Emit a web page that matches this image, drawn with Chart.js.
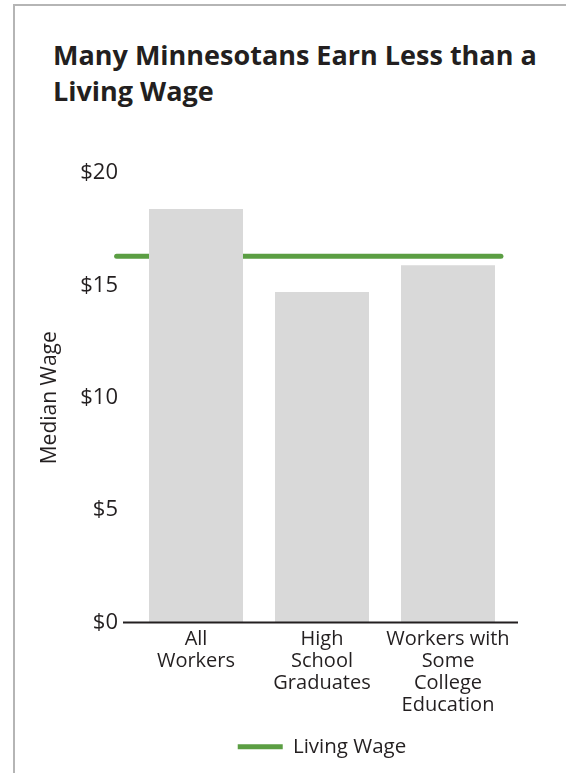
<!DOCTYPE html>
<html>
<head>
<meta charset="utf-8">
<script src="https://cdn.jsdelivr.net/npm/chart.js@4/dist/chart.umd.min.js"></script>
<style>
  body { margin: 0; width: 566px; height: 773px; overflow: hidden; background: #fff; }
  .frame { position: absolute; left: 13px; top: 4px; right: -2px; bottom: -2px;
           border-top: 2px solid #b5b5b5; border-left: 2px solid #b5b5b5; }
  h1 { position: absolute; left: 53px; top: 37px; margin: 0; font: bold 27px "Open Sans", sans-serif;
       line-height: 36px; color: #231f20; }
  .wrap { position: absolute; left: 15px; top: 130px; width: 551px; height: 643px; }
</style>
</head>
<body>
<div class="frame"></div>
<h1>Many Minnesotans Earn Less than a<br>Living Wage</h1>
<div class="wrap"><canvas id="chart"></canvas></div>
<script>
const categories = [["All", "Workers"], ["High", "School", "Graduates"], ["Workers with", "Some", "College", "Education"]];
const medianWage = [18.4, 14.7, 15.9];
const livingWage = 16.3;
const yTicks = [0, 5, 10, 15, 20];

// where the living wage line starts/ends, in category units
const lineSpan = [-0.63, 2.42];

const ink = "#231f20";
const font = "'Open Sans', sans-serif";

// baseline drawn a little wider than the plot area, like the original
const axisLine = {
  id: "axisLine",
  afterDatasetsDraw(chart) {
    const { ctx, chartArea, scales } = chart;
    const y = scales.y.getPixelForValue(0);
    ctx.save();
    ctx.strokeStyle = ink;
    ctx.lineWidth = 2;
    ctx.beginPath();
    ctx.moveTo(chartArea.left - 10, y);
    ctx.lineTo(chartArea.right + 7, y);
    ctx.stroke();
    ctx.restore();
  },
};

new Chart(document.getElementById("chart"), {
  data: {
    labels: categories,
    datasets: [
      {
        type: "bar",
        label: "Median Wage",
        data: medianWage,
        backgroundColor: "#d9d9d9",
        barPercentage: 0.746,
        categoryPercentage: 1,
        grouped: false,
      },
      {
        type: "line",
        label: "Living Wage",
        xAxisID: "xl",
        data: lineSpan.map(x => ({ x, y: livingWage })),
        borderColor: "#5b9e43",
        backgroundColor: "#5b9e43",
        borderWidth: 5,
        borderCapStyle: "round",
        pointRadius: 0,
        clip: false,
      },
    ],
  },
  plugins: [axisLine],
  options: {
    responsive: true,
    maintainAspectRatio: false,
    animation: false,
    layout: { padding: { left: 22, right: 55, top: 43, bottom: 6 } },
    plugins: {
      tooltip: { enabled: false },
      legend: {
        position: "bottom",
        fullSize: false,
        labels: {
          filter: item => item.datasetIndex === 1,
          usePointStyle: true,
          pointStyle: "line",
          pointStyleWidth: 45,
          boxHeight: 20,
          padding: 10,
          color: ink,
          font: { family: font, size: 20.5 },
        },
      },
    },
    scales: {
      x: {
        grid: { display: false, drawTicks: false },
        border: { display: false },
        ticks: { color: ink, padding: 6, maxRotation: 0, autoSkip: false, font: { family: font, size: 20, lineHeight: 1.1 } },
        afterFit: s => { s.height = 104; },
      },
      xl: {
        type: "linear",
        display: false,
        min: -0.5,
        max: categories.length - 0.5,
      },
      y: {
        min: 0,
        max: 20,
        afterBuildTicks: s => { s.ticks = yTicks.map(v => ({ value: v })); },
        grid: { display: false, drawTicks: false },
        border: { display: false },
        ticks: { color: ink, padding: 15, callback: v => "$" + v, font: { family: font, size: 22 } },
        title: { display: true, text: "Median Wage", color: ink, padding: 0, font: { family: font, size: 21 } },
        afterFit: s => { s.width = 96; },
      },
    },
  },
});
</script>
</body>
</html>
